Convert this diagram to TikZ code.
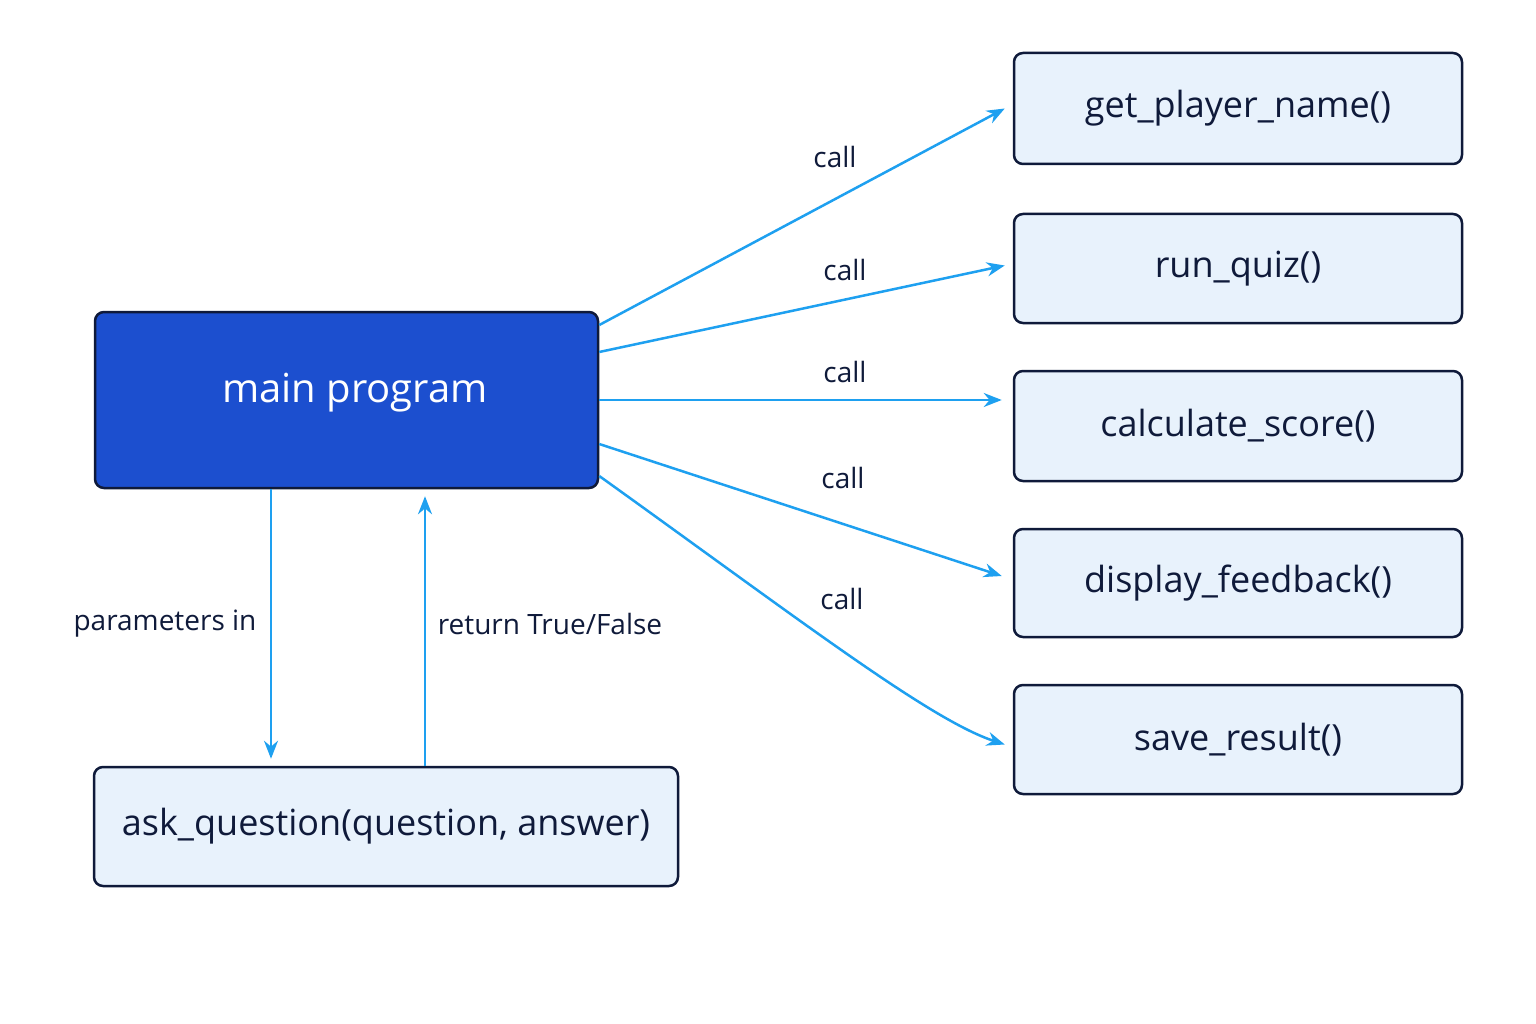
\documentclass[tikz,border=0pt]{standalone}
\usepackage{fontspec}
\setmainfont{Open Sans}
\usetikzlibrary{arrows.meta,calc}
\definecolor{arr}{HTML}{1EA0F0}
\definecolor{bfill}{HTML}{E8F2FC}
\definecolor{bdraw}{HTML}{0F1A3A}
\definecolor{mfill}{HTML}{1C4FCF}
\tikzset{
 fbox/.style={draw=bdraw,line width=2.5pt,fill=bfill,rounded corners=9pt,font=\fontsize{36}{40}\selectfont\color{bdraw}},
 conn/.style={draw=arr,line width=2.5pt,-{Stealth[length=18pt,width=14pt]}},
 lab/.style={font=\fontsize{28}{32}\selectfont\color{bdraw}}
}
\begin{document}
\begin{tikzpicture}[x=1pt,y=-1pt]
\useasboundingbox (0,0) rectangle (1536,1024);
\fill[white] (0,0) rectangle (1536,1024);
\node[fbox,fill=mfill,minimum width=503pt,minimum height=176pt,text=white,font=\fontsize{40}{44}\selectfont\bfseries] (main) at (346.5,400) {};
\node[text=white,font=\fontsize{40}{44}\selectfont] at (355,393) {main program};
\node[fbox,minimum width=448pt,minimum height=111pt] (g) at (1238,108.5) {get\_player\_name()};
\node[fbox,minimum width=448pt,minimum height=109pt] (r) at (1238,268.5) {run\_quiz()};
\node[fbox,minimum width=448pt,minimum height=110pt] (c) at (1238,426) {calculate\_score()};
\node[fbox,minimum width=448pt,minimum height=108pt] (d) at (1238,583) {display\_feedback()};
\node[fbox,minimum width=448pt,minimum height=109pt] (s) at (1238,739.5) {save\_result()};
\node[fbox,minimum width=584pt,minimum height=119pt] (a) at (386,826.5) {ask\_question(question, answer)};
\draw[conn] ([yshift=75pt]main.east) -- ([xshift=-8pt]g.west);
\draw[conn] ([yshift=48pt]main.east) -- ([xshift=-8pt,yshift=3pt]r.west);
\draw[conn] (main.east) -- ([xshift=-11pt,yshift=26pt]c.west);
\draw[conn] ([yshift=-44pt]main.east) -- ([xshift=-11pt,yshift=7pt]d.west);
\draw[conn] ([yshift=-76pt]main.east) .. controls (800,620) and (930,720) .. ([xshift=-8pt,yshift=-5pt]s.west);
\draw[conn] (main.south -| 271,0) -- ([yshift=7pt]a.north -| 271,0);
\draw[conn] (a.north -| 425,0) -- ([yshift=-7pt]main.south -| 425,0);
\node[lab] at (835,157) {call};
\node[lab] at (845,270) {call};
\node[lab] at (845,372) {call};
\node[lab] at (843,478) {call};
\node[lab] at (842,599) {call};
\node[lab] at (165,624) {parameters in};
\node[lab] at (550,624) {return True/False};
\end{tikzpicture}
\end{document}
